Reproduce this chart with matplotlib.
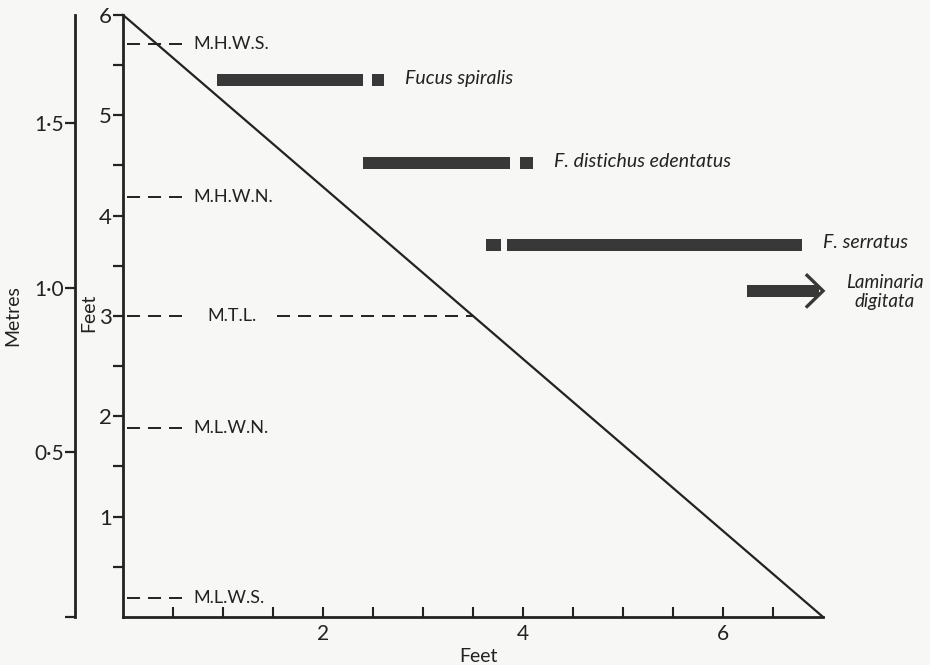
import numpy as np
import matplotlib
matplotlib.use("Agg")
import matplotlib.pyplot as plt

plt.rcParams['font.family'] = ['Lato', 'DejaVu Sans']

# shore profile (feet)
slope_x = [0.0, 7.0]
slope_y = [6.0, 0.0]

# tide levels (feet above chart datum)
tide_names = ["M.H.W.S.", "M.H.W.N.", "M.T.L.", "M.L.W.N.", "M.L.W.S."]
tide_levels = [5.71, 4.19, 3.0, 1.88, 0.19]

# algal belts: level, main bar (start, end), small patch (start, end)
species = ["Fucus spiralis", "F. distichus edentatus", "F. serratus"]
belt_level = [5.35, 4.52, 3.71]
belt_start = [0.94, 2.40, 3.84]
belt_end = [2.40, 3.87, 6.79]
patch_start = [2.49, 3.97, 3.63]
patch_end = [2.61, 4.10, 3.78]

lam_level = 3.25
lam_start = 6.24
lam_end = 6.96

metre_ticks = [0.0, 0.5, 1.0, 1.5]
metre_labels = ["", "0·5", "1·0", "1·5"]

ink = '#222222'
bar_col = '#383838'
bg = '#f7f7f6'

fig = plt.figure(figsize=(9.3, 6.65), dpi=100, facecolor=bg)
ax = fig.add_axes([0.1323, 0.0722, 0.7527, 0.9053])
ax.set_facecolor(bg)
ax.set_xlim(0, 7)
ax.set_ylim(0, 6)

for s in ['top', 'right']:
    ax.spines[s].set_visible(False)
for s in ['left', 'bottom']:
    ax.spines[s].set_color(ink)
    ax.spines[s].set_linewidth(2.0)

# feet axis (vertical)
ax.set_yticks(np.arange(1, 7))
ax.set_yticklabels([str(v) for v in range(1, 7)])
ax.set_yticks(np.arange(0.5, 6, 1.0), minor=True)
ax.tick_params(axis='y', which='both', direction='out', length=7, width=1.6,
               colors=ink, labelsize=16, pad=1)

# feet axis (horizontal)
ax.set_xticks([2, 4, 6])
ax.set_xticklabels(['2', '4', '6'])
ax.set_xticks([v for v in np.arange(0.5, 7, 0.5) if v not in (2, 4, 6)], minor=True)
ax.tick_params(axis='x', which='both', direction='in', length=7, width=1.5,
               colors=ink, labelsize=15, pad=5)

ax.text(0.507, -0.052, 'Feet', transform=ax.transAxes, fontsize=14, color=ink,
        ha='center', va='top')
ax.text(-0.049, 0.505, 'Feet', transform=ax.transAxes, fontsize=14, color=ink,
        ha='center', va='center', rotation=90)
ax.text(-0.158, 0.50, 'Metres', transform=ax.transAxes, fontsize=14, color=ink,
        ha='center', va='center', rotation=90)

# metres axis
sec = ax.secondary_yaxis(-0.0686, functions=(lambda f: f * 0.3048, lambda m: m / 0.3048))
sec.set_yticks(metre_ticks)
sec.set_yticklabels(metre_labels)
sec.spines['left'].set_linewidth(2.0)
sec.spines['left'].set_color(ink)
sec.tick_params(direction='out', length=7, width=1.6, colors=ink, labelsize=15, pad=1)

# shore slope
ax.plot(slope_x, slope_y, color=ink, lw=1.6, clip_on=False)

# tide levels
dash_kw = dict(color=ink, lw=1.4, dashes=(6.7, 4.1), clip_on=False)
for name, lev in zip(tide_names, tide_levels):
    ax.plot([0.04, 0.59], [lev, lev], **dash_kw)
    if name == "M.T.L.":
        ax.text(0.84, lev, name, fontsize=13, color=ink, va='center', ha='left')
        x_slope = np.interp(lev, slope_y[::-1], slope_x[::-1])
        ax.plot([1.54, x_slope], [lev, lev], **dash_kw)
    else:
        ax.text(0.70, lev, name, fontsize=13, color=ink, va='center', ha='left')

# algal belts
h = 0.12
for name, lev, x0, x1, p0, p1 in zip(species, belt_level, belt_start, belt_end,
                                     patch_start, patch_end):
    ax.barh(lev, x1 - x0, left=x0, height=h, color=bar_col, lw=0)
    ax.barh(lev, p1 - p0, left=p0, height=h, color=bar_col, lw=0)
    ax.text(max(x1, p1) + 0.21, lev + 0.02, name, fontsize=14, style='italic',
            color=ink, va='center', ha='left', clip_on=False)

# Laminaria arrow
ax.barh(lam_level, lam_end - lam_start, left=lam_start, height=h, color=bar_col,
        lw=0, clip_on=False)
ax.plot([lam_end - 0.12, 7.0, lam_end - 0.12],
        [lam_level + 0.155, lam_level, lam_level - 0.155],
        color=bar_col, lw=2.4, solid_joinstyle='miter', clip_on=False)
ax.text(7.62, lam_level - 0.01, "Laminaria\ndigitata", fontsize=13.5, style='italic',
        color=ink, va='center', ha='center', linespacing=1.15, clip_on=False)

fig.savefig('out.png', dpi=100, facecolor=bg)
